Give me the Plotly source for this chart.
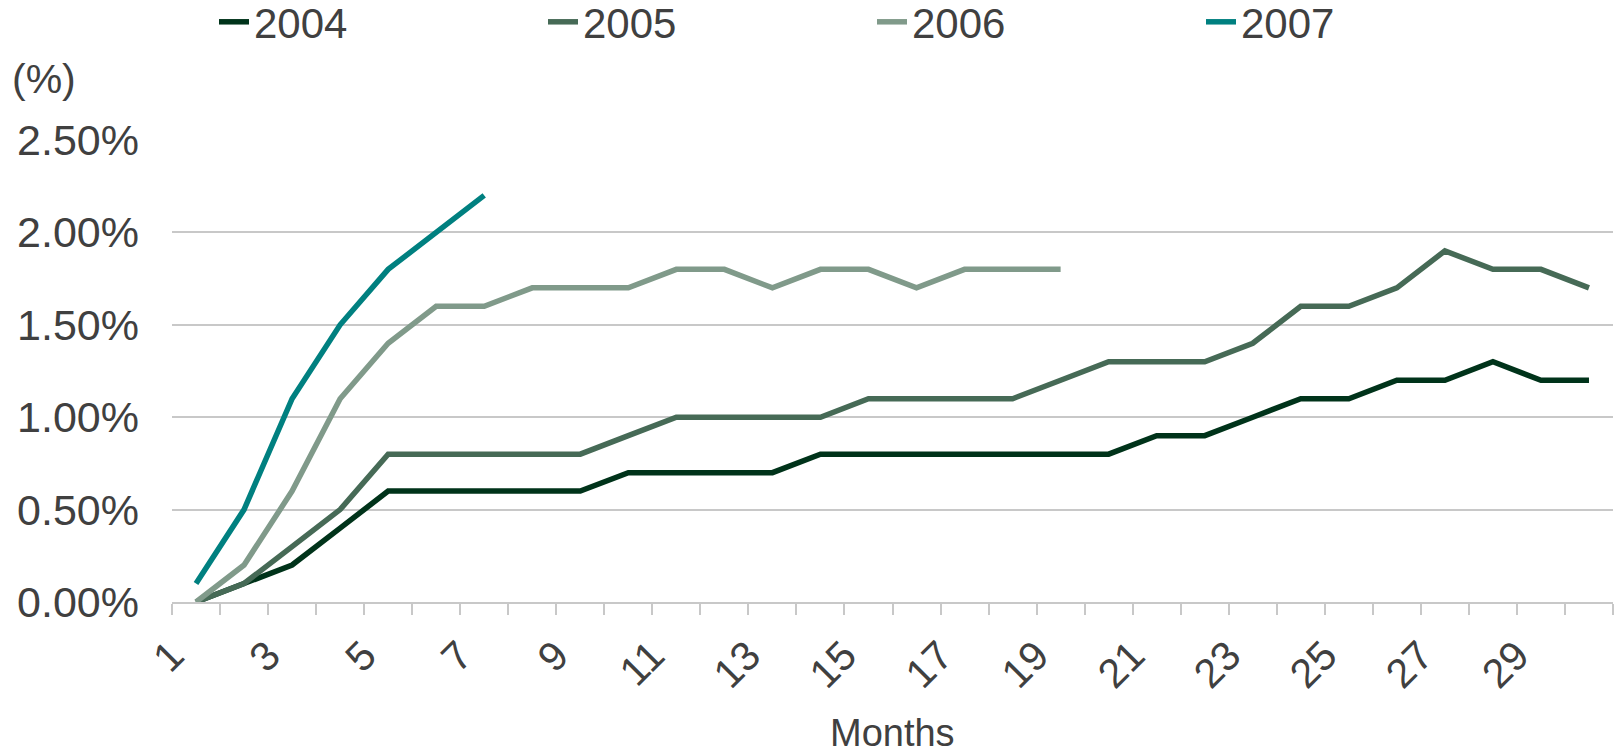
import plotly.graph_objects as go

# Cumulative rate by months since origination, one series per vintage year
months = list(range(1, 31))

rate_2004 = [0.0, 0.1, 0.2, 0.4, 0.6, 0.6, 0.6, 0.6, 0.6, 0.7,
             0.7, 0.7, 0.7, 0.8, 0.8, 0.8, 0.8, 0.8, 0.8, 0.8,
             0.9, 0.9, 1.0, 1.1, 1.1, 1.2, 1.2, 1.3, 1.2, 1.2]
rate_2005 = [0.0, 0.1, 0.3, 0.5, 0.8, 0.8, 0.8, 0.8, 0.8, 0.9,
             1.0, 1.0, 1.0, 1.0, 1.1, 1.1, 1.1, 1.1, 1.2, 1.3,
             1.3, 1.3, 1.4, 1.6, 1.6, 1.7, 1.9, 1.8, 1.8, 1.7]
rate_2006 = [0.0, 0.2, 0.6, 1.1, 1.4, 1.6, 1.6, 1.7, 1.7, 1.7,
             1.8, 1.8, 1.7, 1.8, 1.8, 1.7, 1.8, 1.8, 1.8]
rate_2007 = [0.1, 0.5, 1.1, 1.5, 1.8, 2.0, 2.2]

series_names = ["2004", "2005", "2006", "2007"]
series_values = [rate_2004, rate_2005, rate_2006, rate_2007]
series_colors = ["#00331a", "#466a56", "#809a8a", "#008080"]

y_ticks = [0.0, 0.5, 1.0, 1.5, 2.0, 2.5]
y_ticklabels = ["0.00%", "0.50%", "1.00%", "1.50%", "2.00%", "2.50%"]

# Tick marks sit on category boundaries; the boundary opening each odd
# month carries that month's label
x_boundaries = [m - 0.5 for m in months] + [months[-1] + 0.5]
x_boundary_text = [str(m) if m % 2 == 1 else "" for m in months] + [""]

TEXT = "#404040"
GRID = "#c8c8c8"
FONT = "Liberation Sans, Arial, sans-serif"

fig = go.Figure()
for name, vals, color in zip(series_names, series_values, series_colors):
    fig.add_trace(go.Scatter(
        x=months[:len(vals)], y=vals, name=name, mode="lines",
        line=dict(color=color, width=5.5),
    ))

fig.update_layout(
    width=1615, height=753,
    margin=dict(l=172, r=2, t=140, b=151, autoexpand=False),
    paper_bgcolor="white", plot_bgcolor="white",
    font=dict(family=FONT, color=TEXT, size=40),
    showlegend=True,
    legend=dict(
        orientation="h", x=42 / 1441, y=1.0 + 118 / 462, xanchor="left", yanchor="middle",
        entrywidth=284, entrywidthmode="pixels",
        font=dict(size=42, color=TEXT), bgcolor="rgba(0,0,0,0)",
        traceorder="normal",
    ),
    xaxis=dict(
        range=[0.5, 30.5], tickmode="array",
        tickvals=x_boundaries, ticktext=x_boundary_text,
        tickangle=-45, ticks="outside", ticklen=11, tickwidth=2, tickcolor=GRID,
        showline=True, linecolor=GRID, linewidth=2,
        showgrid=False, zeroline=False,
        tickfont=dict(size=41, color=TEXT),
    ),
    yaxis=dict(
        range=[0, 2.5], tickmode="array", tickvals=y_ticks, ticktext=y_ticklabels,
        showgrid=True, gridcolor=GRID, gridwidth=2,
        zeroline=False, showline=False, ticks="",
        ticklabelstandoff=32,
        tickfont=dict(size=43, color=TEXT),
    ),
    annotations=[
        dict(text="(%)", xref="paper", yref="paper",
             x=-162 / 1441, y=1 + 61 / 462, xanchor="left", yanchor="middle",
             showarrow=False, font=dict(size=41, color=TEXT)),
        dict(text="Months", xref="paper", yref="paper",
             x=0.5, y=-131 / 462, xanchor="center", yanchor="middle",
             showarrow=False, font=dict(size=38, color=TEXT)),
    ],
)

fig.write_html("out.html")
